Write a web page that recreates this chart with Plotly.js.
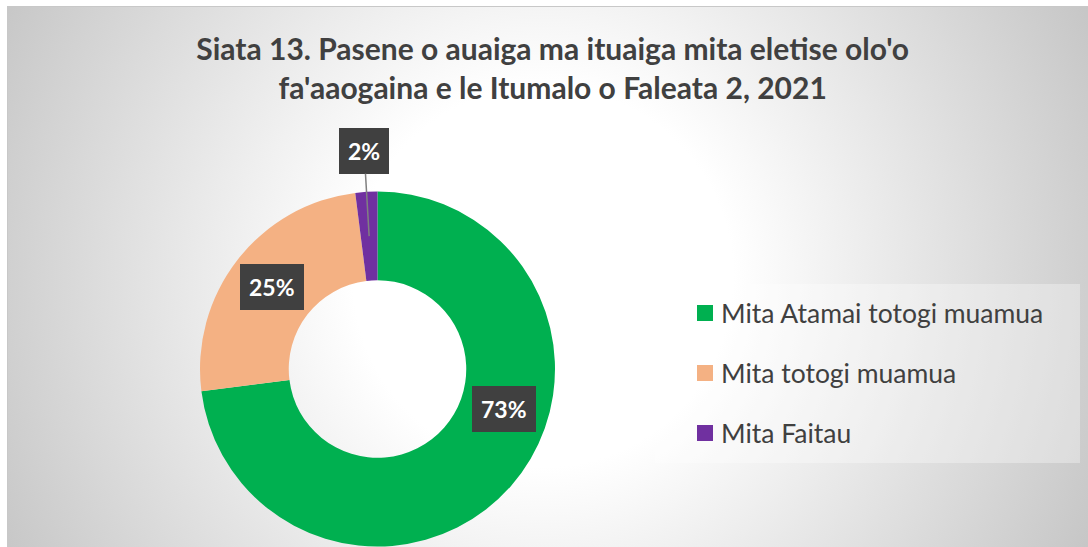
<!DOCTYPE html>
<html>
<head>
<meta charset="utf-8">
<script src="https://cdn.plot.ly/plotly-3.0.1.min.js"></script>
<style>
  html, body { margin: 0; padding: 0; background: #ffffff; }
  #wrap { position: relative; width: 1088px; height: 547px; overflow: hidden; }
  #bg { position: absolute; left: 7px; top: 6px; width: 1081px; height: 541px;
        border-top: 1px solid #c8c8c8; border-left: 1px solid #c8c8c8;
        background: radial-gradient(circle at 535px 270px, #ffffff 0px, #ffffff 190px, #c2c2c2 640px); }
  #chart { position: absolute; left: 0; top: 0; width: 1088px; height: 547px; }
</style>
</head>
<body>
<div id="wrap">
  <div id="bg"></div>
  <div id="chart"></div>
</div>
<script>
// ---- data ----
const categories = ["Mita Atamai totogi muamua", "Mita totogi muamua", "Mita Faitau"];
const values = [73, 25, 2];
const colors = ["#00B050", "#F4B183", "#7030A0"];
const titleText = "Siata 13. Pasene o auaiga ma ituaiga mita eletise olo'o<br>fa'aaogaina e le Itumalo o Faleata 2, 2021";

// ---- layout geometry (pixels) ----
const W = 1088, H = 547;
const cx = 377.5, cy = 369, R = 177.5, holeFrac = 0.5;
const px = x => x / W;
const py = y => 1 - y / H;

const total = values.reduce((a, b) => a + b, 0);
const labelTexts = values.map(v => Math.round(v / total * 100) + '%');

// label placement: angle (fraction of circle, clockwise from top) and radius
const ringMid = R * (1 + holeFrac) / 2;
let cum = 0;
const mids = values.map(v => { const m = (cum + v / 2) / total; cum += v; return m; });
const labelNudge = [-0.066, 0, 0];           // per-label angular adjustment (style)
const calloutOffset = [null, null, [-5, -85]]; // leader-line offsets in px (style)

const annotations = [];
mids.forEach((m, i) => {
  const a = (m + labelNudge[i]) * 2 * Math.PI;
  const lx = cx + ringMid * Math.sin(a);
  const ly = cy - ringMid * Math.cos(a);
  const base = {
    text: '<b>' + labelTexts[i] + '</b>',
    xref: 'paper', yref: 'paper',
    x: px(lx), y: py(ly),
    xanchor: 'center', yanchor: 'middle',
    font: { family: 'Lato, "Open Sans", sans-serif', size: 23, color: '#ffffff' },
    bgcolor: '#404040', borderpad: 8, bordercolor: '#404040', borderwidth: 1
  };
  if (calloutOffset[i]) {
    Object.assign(base, {
      showarrow: true, ax: calloutOffset[i][0], ay: calloutOffset[i][1],
      arrowhead: 0, arrowwidth: 1.5, arrowcolor: '#808080', standoff: 0, startstandoff: 0
    });
  } else {
    base.showarrow = false;
  }
  annotations.push(base);
});

// ---- custom legend ----
const legX0 = 655, legY0 = 284, legX1 = 1080, legY1 = 463;
const legRow0 = 313, legRowGap = 60, swX = 697, sw = 16, txX = 719;
const shapes = [{
  type: 'rect', xref: 'paper', yref: 'paper',
  x0: px(legX0), x1: px(legX1), y0: py(legY1), y1: py(legY0),
  fillcolor: 'rgba(255,255,255,0.32)', line: { width: 0 }, layer: 'below'
}];
categories.forEach((c, i) => {
  const yc = legRow0 + i * legRowGap;
  shapes.push({
    type: 'rect', xref: 'paper', yref: 'paper',
    x0: px(swX), x1: px(swX + sw), y0: py(yc + sw / 2), y1: py(yc - sw / 2),
    fillcolor: colors[i], line: { width: 0 }
  });
  annotations.push({
    text: c, xref: 'paper', yref: 'paper', x: px(txX), y: py(yc),
    xanchor: 'left', yanchor: 'middle', showarrow: false,
    font: { family: 'Lato, "Open Sans", sans-serif', size: 26.5, color: '#404040' }
  });
});

const trace = {
  type: 'pie',
  labels: categories,
  values: values,
  hole: holeFrac,
  sort: false,
  direction: 'clockwise',
  rotation: 0,
  marker: { colors: colors, line: { width: 0 } },
  textinfo: 'none',
  hoverinfo: 'label+percent',
  showlegend: false,
  domain: { x: [px(cx - R), px(cx + R)], y: [py(cy + R), py(cy - R)] }
};

const layout = {
  width: W, height: H,
  margin: { l: 0, r: 0, t: 0, b: 0 },
  paper_bgcolor: 'rgba(0,0,0,0)',
  plot_bgcolor: 'rgba(0,0,0,0)',
  showlegend: false,
  title: {
    text: '<b>' + titleText + '</b>',
    x: 0.508, xanchor: 'center',
    y: 1 - 60 / H, yanchor: 'middle', yref: 'container',
    font: { family: 'Lato, "Open Sans", sans-serif', size: 30, color: '#404040' }
  },
  annotations: annotations,
  shapes: shapes
};

Plotly.newPlot('chart', [trace], layout, { displayModeBar: false, staticPlot: true });
</script>
</body>
</html>
